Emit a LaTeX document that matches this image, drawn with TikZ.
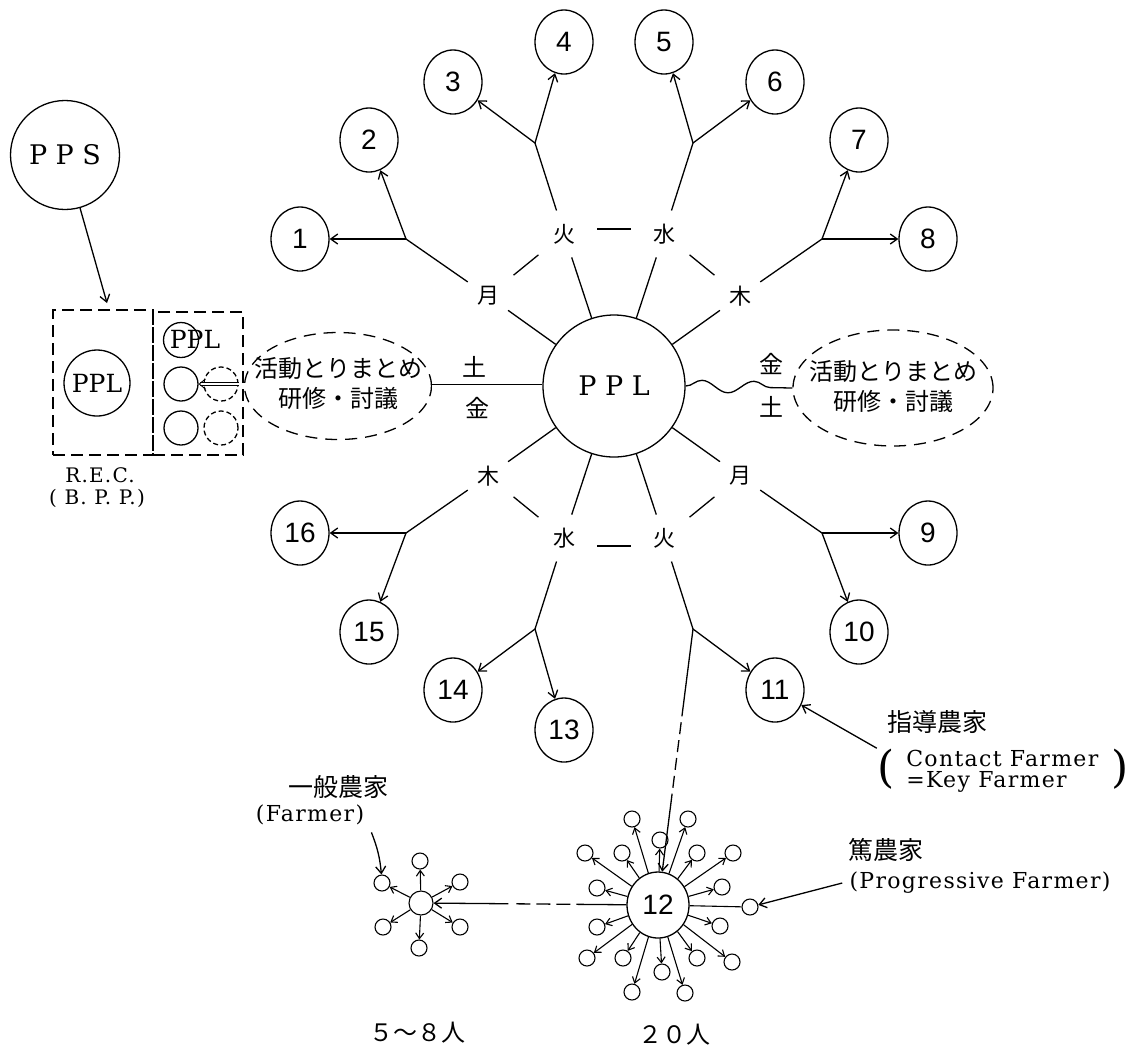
\documentclass[tikz,border=0pt]{standalone}
\usepackage{fontspec}
\setmainfont{DejaVu Serif}
\newfontfamily\jp{Noto Sans CJK JP}
\newfontfamily\numf{Liberation Sans}
\newfontfamily\spc[LetterSpace=6]{DejaVu Serif}
\usetikzlibrary{arrows.meta,shapes.geometric,decorations.pathmorphing}
\begin{document}
\begin{tikzpicture}[x=0.5pt,y=-0.5pt, line width=0.65pt,
  num/.style={ellipse,draw,minimum width=29pt,minimum height=32pt,inner sep=0pt,font=\numf\fontsize{14}{14}\selectfont},
  day/.style={circle,minimum size=24pt,inner sep=0pt,font=\jp\fontsize{11}{11}\selectfont},
  sat/.style={circle,draw,minimum size=8pt,inner sep=0pt,line width=0.55pt},
  arr/.style={-{Straight Barb[length=3.5pt,width=5pt]}},
  sarr/.style={-{Straight Barb[length=2.8pt,width=4pt]},line width=0.55pt},
  jpt/.style={font=\jp\fontsize{12}{15}\selectfont,align=center},
  lat/.style={font=\spc\fontsize{11}{13}\selectfont,align=center},
  ser/.style={font=\fontsize{13.5}{14}\selectfont},
  dbox/.style={draw,dash pattern=on 6pt off 3pt,inner sep=0pt},
  dell/.style={draw,ellipse,dash pattern=on 6pt off 4pt,inner sep=0pt},
]
\useasboundingbox (0,0) rectangle (1133,1046);

% ---- PPS and R.E.C.
\node[circle,draw,minimum size=54.5pt,inner sep=0pt,ser] (pps) at (65,155) {P P S};
\coordinate (ppsend) at (107,303);
\draw[arr] (pps) -- (ppsend);
\node[dbox,minimum width=50pt,minimum height=72.5pt] (boxL) at (103,382.5) {};
\node[dbox,minimum width=45pt,minimum height=71.5pt] (boxR) at (198,383.5) {};
\node[circle,draw,minimum size=33pt,inner sep=0pt,font=\fontsize{12.5}{13}\selectfont] (pplL) at (97,383) {PPL};
\node[circle,draw,minimum size=17.5pt,inner sep=0pt] (pplS) at (181,340) {};
\node[font=\fontsize{12.5}{13}\selectfont] (pplSt) at (195,339) {PPL};
\node[circle,draw,minimum size=17pt,inner sep=0pt] (cA) at (181,384) {};
\node[circle,draw,dash pattern=on 2.5pt off 1.5pt,minimum size=17pt,inner sep=0pt] (cB) at (221,384) {};
\node[circle,draw,minimum size=17pt,inner sep=0pt] (cC) at (181,428) {};
\node[circle,draw,dash pattern=on 2.5pt off 1.5pt,minimum size=17pt,inner sep=0pt] (cD) at (221,428) {};
\draw[double,double distance=1.3pt,line width=0.4pt,-{Straight Barb[length=3pt,width=5pt]}] (cB.east) -- (cA.east);
\node[font=\spc\fontsize{10}{10}\selectfont,inner sep=1pt] (rec) at (100,475) {R.E.C.};
\node[font=\spc\fontsize{10}{10}\selectfont,inner sep=1pt] (bpp) at (97,498) {( B. P. P.)};

% ---- left ellipse
\node[dell,minimum width=93.5pt,minimum height=53.5pt] (lell) at (338,386) {};
\node[jpt] (lellt) at (338,384) {活動とりまとめ\\研修・討議};

% ---- central PPL
\node[circle,draw,minimum size=71pt,inner sep=0pt,ser] (ppl) at (614,386) {P P L};
\draw[double,double distance=1.5pt,line width=0.4pt] (lell.east) -- (ppl.west);
\node[jpt] (sat1) at (474,367) {土};
\node[jpt] (fri1) at (477,408) {金};

% ---- right ellipse
\node[dell,minimum width=100pt,minimum height=58pt] (rell) at (893,388) {};
\node[jpt] (rellt) at (893,387) {活動とりまとめ\\研修・討議};
\draw[decorate,decoration={snake,segment length=26pt,amplitude=3pt}] (ppl.east) -- (rell.west);
\node[jpt] (fri2) at (771,364) {金};
\node[jpt] (sat2) at (771,407) {土};

% ---- day labels
\node[day] (u1) at (488,296) {月};
\node[day] (u2) at (564,234) {火};
\node[day] (u3) at (664,234) {水};
\node[day] (u4) at (740,296) {木};
\node[day] (l1) at (488,476) {木};
\node[day] (l2) at (564,538) {水};
\node[day] (l3) at (664,538) {火};
\node[day] (l4) at (740,476) {月};
\foreach \d in {u1,u2,u3,u4,l1,l2,l3,l4} \draw (ppl) -- (\d);
\foreach \a/\b in {u1/u2,u3/u4,l1/l2,l3/l4}
  \draw[shorten <=16.5pt,shorten >=16.5pt] (\a.center) -- (\b.center);
\draw[shorten <=16.5pt,shorten >=16.5pt] ([yshift=2.5pt]u2.center) -- ([yshift=2.5pt]u3.center);
\draw[shorten <=16.5pt,shorten >=16.5pt] ([yshift=-4pt]l2.center) -- ([yshift=-4pt]l3.center);

% ---- branch points
\coordinate (bu1) at (406,239);
\coordinate (bu2) at (535,143);
\coordinate (bu3) at (693,143);
\coordinate (bu4) at (822,239);
\coordinate (bl1) at (406,533);
\coordinate (bl2) at (535,629);
\coordinate (bl3) at (693,629);
\coordinate (bl4) at (822,533);
\foreach \d/\b in {u1/bu1,u2/bu2,u3/bu3,u4/bu4,l1/bl1,l2/bl2,l3/bl3,l4/bl4} \draw (\d) -- (\b);

% ---- numbered circles
\node[num] (n1) at (300,239) {1};
\node[num] (n2) at (369,140) {2};
\node[num] (n3) at (453,82) {3};
\node[num] (n4) at (564,42) {4};
\node[num] (n5) at (664,42) {5};
\node[num] (n6) at (775,82) {6};
\node[num] (n7) at (859,140) {7};
\node[num] (n8) at (928,239) {8};
\node[num] (n9) at (928,533) {9};
\node[num] (n10) at (859,632) {10};
\node[num] (n11) at (775,690) {11};
\node[num] (n13) at (564,730) {13};
\node[num] (n14) at (453,690) {14};
\node[num] (n15) at (369,632) {15};
\node[num] (n16) at (300,533) {16};
\node[num,minimum width=31pt,minimum height=33pt] (n12) at (658,905) {12};
\foreach \b/\n in {bu1/n1,bu1/n2,bu2/n3,bu2/n4,bu3/n5,bu3/n6,bu4/n7,bu4/n8,bl4/n9,bl4/n10,bl3/n11,bl2/n13,bl2/n14,bl1/n15,bl1/n16}
  \draw[arr] (\b) -- (\n);
\draw[arr,dash pattern=on 44pt off 3pt on 6pt off 3pt on 6pt off 3pt on 6pt off 3pt on 6pt off 3pt on 60pt] (bl3) -- (n12);

% ---- cluster of 12
\foreach \i/\x/\y in {1/632/819,2/688/819,3/660/840,4/585/853,5/622/853,6/697/853,7/733/853,8/597/888,9/722/887,11/597/927,12/720/926,13/587/958,14/623/958,15/662/972,16/697/958,17/732/962,18/632/992,19/685/993}{
  \node[sat] (s\i) at (\x,\y) {};
  \draw[sarr] (n12) -- (s\i);
}
\node[sat] (s10) at (750,907) {};
\draw[line width=0.55pt] (n12) -- (s10);

% ---- small farmer cluster
\node[circle,draw,minimum size=12pt,inner sep=0pt,line width=0.55pt] (f0) at (421,903) {};
\foreach \i/\x/\y in {1/382/883,2/420/861,3/460/882,4/383/927,5/460/927,6/419/948}{
  \node[sat] (f\i) at (\x,\y) {};
  \draw[sarr] (f0) -- (f\i);
}
\draw[arr,dash pattern=on 25pt off 3pt on 7pt off 3pt on 7pt off 3pt on 7pt off 4pt on 45pt] (n12) -- (f0);

% ---- labels
\node[font=\jp\fontsize{12.5}{13}\selectfont] (ippan) at (338,787) {一般農家};
\node[lat] (farmer) at (310,815) {(Farmer)};
\draw[arr] (farmer.south east) to[bend left=8] (f1);
\node[font=\jp\fontsize{12.5}{13}\selectfont] (toku) at (886,850) {篤農家};
\node[lat] (prog) at (980,883) {(Progressive Farmer)};
\draw[arr] (prog.west) -- (s10);
\node[font=\jp\fontsize{12.5}{13}\selectfont] (shido) at (937,722) {指導農家};
\node[lat,anchor=west] (contact) at (899,758) {Contact Farmer};
\node[lat,anchor=west] (key) at (899,782) {=Key Farmer};
\node[font=\fontsize{22}{22}\selectfont,inner sep=0pt] (pl) at (886,769) {(};
\node[font=\fontsize{22}{22}\selectfont,inner sep=0pt] (pr) at (1120,769) {)};
\draw[arr] (pl.north west) -- (n11);
\node[font=\jp\fontsize{12}{12}\selectfont] (n58) at (417,1033) {５～８人};
\node[font=\jp\fontsize{12}{12}\selectfont] (n20) at (674,1035) {２０人};
\end{tikzpicture}
\end{document}
